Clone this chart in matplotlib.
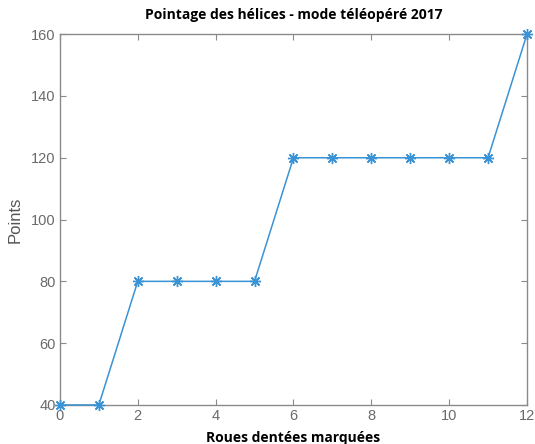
import matplotlib
matplotlib.use('Agg')
import matplotlib.pyplot as plt

# data
roues = [0, 1, 2, 3, 4, 5, 6, 7, 8, 9, 10, 11, 12]
points = [40, 40, 80, 80, 80, 80, 120, 120, 120, 120, 120, 120, 160]
xticks = [0, 2, 4, 6, 8, 10, 12]
yticks = [40, 60, 80, 100, 120, 140, 160]

fig = plt.figure(figsize=(5.35, 4.44), dpi=100)
fig.patch.set_facecolor('white')
ax = fig.add_axes([0.112, 0.088, 0.873, 0.835])

# matlab style asterisk marker: + and x together
ax.plot(roues, points, color='#3a93d4', linewidth=1.1, marker=(8, 2, 0),
        markersize=8, markeredgewidth=1.0, clip_on=False, zorder=3)

ax.set_xlim(0, 12)
ax.set_ylim(40, 160)
ax.set_xticks(xticks)
ax.set_yticks(yticks)

for s in ax.spines.values():
    s.set_color('#8a8a8a')
    s.set_linewidth(1.0)
ax.tick_params(direction='in', length=4, width=0.8, color='#8a8a8a',
               labelcolor='#6a6a6a', labelsize=10.5, top=True, right=True,
               pad=3)
for lab in ax.get_xticklabels() + ax.get_yticklabels():
    lab.set_family('Liberation Sans')

ax.set_title('Pointage des hélices - mode téléopéré 2017', fontsize=10,
             fontweight='bold', family='Open Sans', pad=11)
ax.set_xlabel('Roues dentées marquées', fontsize=10, fontweight='bold',
              family='Open Sans', labelpad=6)
ax.set_ylabel('Points', fontsize=12, family='Liberation Sans',
              color='#555555', labelpad=6)

fig.savefig('out.png', dpi=100)
